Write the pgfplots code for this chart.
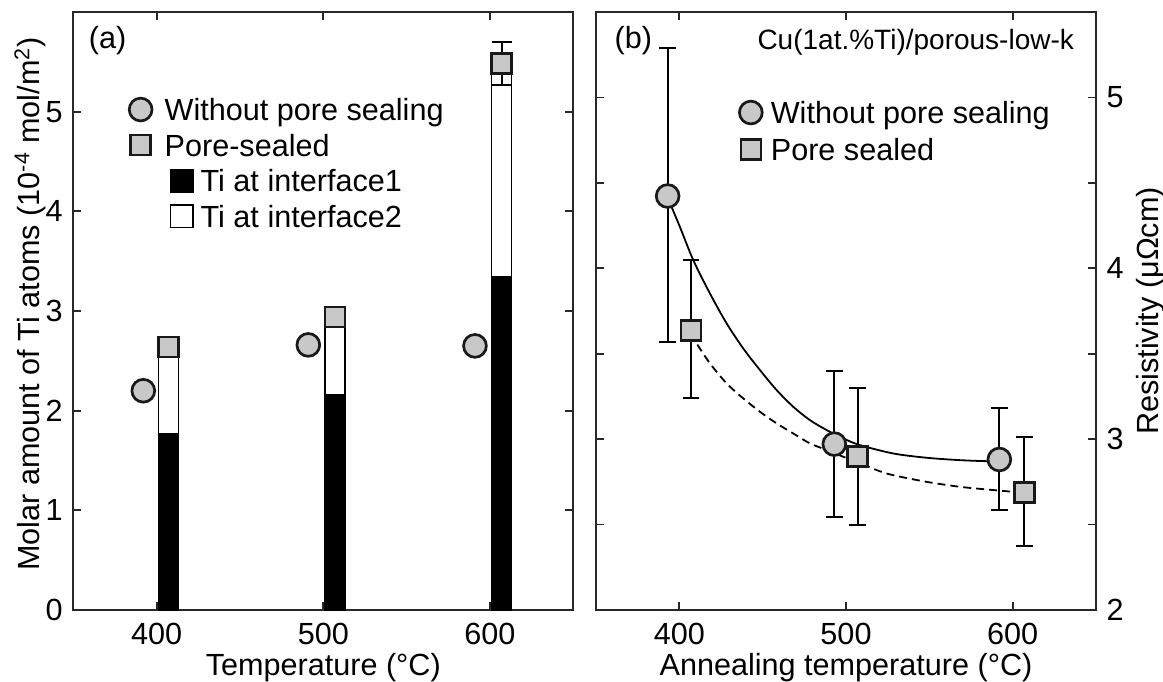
\documentclass[border=0pt]{standalone}
\usepackage{fontspec}
\setmainfont{Liberation Sans}
\usepackage{pgfplots}
\pgfplotsset{compat=1.18}

\definecolor{mkgray}{RGB}{200,200,200}
\definecolor{mkedge}{RGB}{25,25,25}
\definecolor{axgray}{RGB}{40,40,40}

\pgfplotsset{
  panel/.style={
    scale only axis, width=250pt, height=299pt, anchor=south west,
    xmin=350, xmax=650, xtick={400,500,600},
    tick align=inside, major tick length=4pt, minor tick length=4pt,
    axis line style={axgray, line width=0.9pt},
    every tick/.style={axgray, line width=0.9pt},
    /pgf/number format/assume math mode=true,
    xticklabel style={anchor=base, yshift=-17pt},
    xlabel style={at={(axis description cs:0.5,0)}, anchor=base, yshift=-32.5pt},
    legend cell align=left,
  },
  circ/.style={only marks, mark=*, mark size=5.7pt,
    mark options={fill=mkgray, draw=mkedge, line width=1.35pt}},
  sqr/.style={only marks, mark=square*, mark size=5pt,
    mark options={fill=mkgray, draw=mkedge, line width=1.35pt}},
  eb/.style={error bars/y dir=both, error bars/y explicit,
    error bars/error bar style={draw=black, line width=1pt, solid},
    error bars/error mark options={rotate=90, draw=black, line width=1pt, mark size=#1}},
}

\begin{document}
\fontsize{15.3}{18}\selectfont
\begin{tikzpicture}
\useasboundingbox (0,0) rectangle (581.5pt,340.5pt);

% (a) Ti at the interfaces
\begin{axis}[panel, at={(36.65pt,35.5pt)},
    ymin=0, ymax=6, ytick={0,1,2,3,4,5},
    xlabel={Temperature (°C)},
    ylabel={Molar amount of Ti atoms (10\textsuperscript{-4} mol/m\textsuperscript{2})},
    ylabel style={at={(axis description cs:-0.0668,0.512)}, anchor=base},
    legend style={at={(0.1084,0.866)}, anchor=north west, draw=none, fill=none,
      inner sep=0pt, row sep=0.8pt,
      nodes={inner xsep=0pt, inner ysep=0pt, text height=14pt, text depth=3pt}},
]
\addplot[ybar, bar width=12, bar shift=0pt, fill=white, draw=black, line width=0.7pt, forget plot]
  coordinates {(407,2.64) (507,2.94) (607,5.48)};
\addplot[ybar, bar width=12, bar shift=0pt, fill=black, draw=black, line width=0.7pt, forget plot]
  coordinates {(407,1.765) (507,2.158) (607,3.348)};
\addplot[circ, forget plot] coordinates {(392,2.20) (491,2.66) (591,2.65)};
\addplot[forget plot, sqr, eb=5pt] coordinates {(407,2.64) (507,2.94) (607,5.48) +- (0,0.217)};

\addlegendimage{legend image code/.code={\path[draw=none, fill=none] (0pt,-6pt) rectangle (18pt,6pt);
  \draw[fill=mkgray, draw=mkedge, line width=1.35pt] (6pt,0pt) circle[radius=5.7pt];}}
\addlegendentry{Without pore sealing}
\addlegendimage{legend image code/.code={\path[draw=none, fill=none] (0pt,-6pt) rectangle (18pt,6pt);
  \draw[fill=mkgray, draw=mkedge, line width=1.35pt] (1pt,-5pt) rectangle (11pt,5pt);}}
\addlegendentry{Pore-sealed}
\addlegendimage{legend image code/.code={\path[draw=none, fill=none] (0pt,-6pt) rectangle (18pt,6pt);
  \draw[overlay, fill=black, draw=black, line width=0.7pt] (20.9pt,-5.6pt) rectangle (32.1pt,5.6pt);}}
\addlegendentry{\hspace*{18pt}Ti at interface1}
\addlegendimage{legend image code/.code={\path[draw=none, fill=none] (0pt,-6pt) rectangle (18pt,6pt);
  \draw[overlay, fill=white, draw=black, line width=0.7pt] (20.9pt,-5.6pt) rectangle (32.1pt,5.6pt);}}
\addlegendentry{\hspace*{18pt}Ti at interface2}

\node[anchor=west] at (rel axis cs:0.01,0.953) {(a)};
\end{axis}

% (b) resistivity
\begin{axis}[panel, at={(298pt,35.5pt)},
    ymin=2, ymax=5.5, ytick={2,3,4,5}, minor ytick={2.5,3.5,4.5},
    yticklabel pos=right,
    xlabel={Annealing temperature (°C)},
    ylabel={Resistivity (μΩcm)},
    ylabel style={at={(axis description cs:1.124,0.5)}, anchor=base},
    legend style={at={(0.2834,0.861)}, anchor=north west, draw=none, fill=none,
      inner sep=0pt, row sep=1.5pt,
      nodes={inner xsep=0pt, inner ysep=0pt, text height=14pt, text depth=3pt}},
]
\addplot[black, line width=0.9pt, smooth, forget plot] coordinates {
  (393,4.42) (395.4,4.358) (400.4,4.241) (408.4,4.047) (418.4,3.852)
  (428.4,3.677) (438.4,3.530) (448.4,3.404) (458.4,3.287) (468.4,3.189)
  (478.4,3.111) (488.4,3.053) (498.4,3.004) (508.4,2.965) (528.4,2.916)
  (548.4,2.891) (568.4,2.877) (584.4,2.871) (592,2.870)};
\addplot[black, line width=0.9pt, dash pattern=on 4pt off 2.5pt, smooth, forget plot] coordinates {
  (407,3.62) (410.4,3.560) (418.4,3.443) (428.4,3.326) (438.4,3.238)
  (448.4,3.160) (458.4,3.092) (468.4,3.033) (478.4,2.975) (488.4,2.936)
  (518.4,2.819) (528.4,2.789) (548.4,2.750) (568.4,2.721) (588.4,2.702)
  (607,2.686)};
\addplot[forget plot, circ, eb=4.2pt] table[x=x, y=y, y error plus=ep, y error minus=em] {
x   y     ep    em
393 4.423 0.867 0.856
493 2.971 0.429 0.429
592 2.881 0.302 0.296
};
\addplot[forget plot, sqr, eb=4.2pt] table[x=x, y=y, y error plus=ep, y error minus=em] {
x   y     ep    em
407 3.637 0.410 0.399
507 2.897 0.405 0.400
607 2.686 0.327 0.312
};

\addlegendimage{legend image code/.code={\path[draw=none, fill=none] (0pt,-6pt) rectangle (16pt,6pt);
  \draw[fill=mkgray, draw=mkedge, line width=1.35pt] (6pt,0pt) circle[radius=5.7pt];}}
\addlegendentry{Without pore sealing}
\addlegendimage{legend image code/.code={\path[draw=none, fill=none] (0pt,-6pt) rectangle (16pt,6pt);
  \draw[fill=mkgray, draw=mkedge, line width=1.35pt] (1pt,-5pt) rectangle (11pt,5pt);}}
\addlegendentry{Pore sealed}

\node[anchor=west] at (rel axis cs:0.016,0.953) {(b)};
\node[anchor=east, font=\fontsize{14}{16}\selectfont] at (rel axis cs:0.977,0.949) {Cu(1at.\%Ti)/porous-low-k};
\end{axis}
\end{tikzpicture}
\end{document}
